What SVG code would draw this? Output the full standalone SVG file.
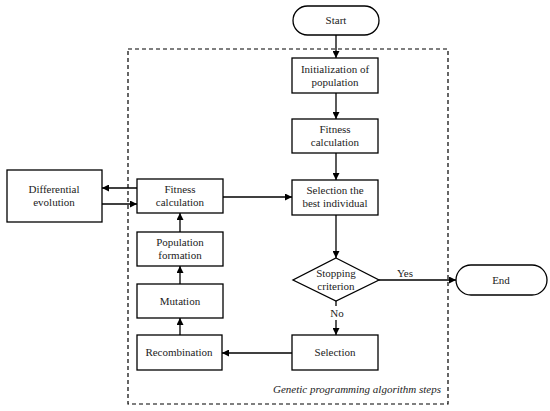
<svg xmlns="http://www.w3.org/2000/svg" width="550" height="411" viewBox="0 0 550 411" font-family="Liberation Serif, Times New Roman, serif">
<defs>
<marker id="ah" viewBox="0 0 10 10" refX="10" refY="5" markerWidth="7" markerHeight="7" markerUnits="userSpaceOnUse" orient="auto">
<path d="M0,0 L10,5 L0,10 z" fill="#000"/>
</marker>
</defs>
<style>
.box{fill:#fff;stroke:#000;stroke-width:1.3}
text{font-family:"Liberation Serif",serif}
.t{font-size:11px;fill:#222;text-anchor:middle}
.c{stroke:#000;stroke-width:1.3;fill:none}
.a{marker-end:url(#ah)}
</style>
<rect width="550" height="411" fill="#fff"/>
<rect x="128" y="49" width="320" height="355" fill="none" stroke="#000" stroke-width="1.2" stroke-dasharray="4,3"/>
<text x="441" y="393" class="t" font-family="Liberation Serif" font-style="italic" style="text-anchor:end">Genetic programming algorithm steps</text>
<g id="connectors">
<line class="c a" x1="336" y1="35" x2="336" y2="58"/>
<line class="c a" x1="336" y1="93" x2="336" y2="119"/>
<line class="c a" x1="336" y1="153" x2="336" y2="180"/>
<line class="c a" x1="336" y1="215" x2="336" y2="258"/>
<line class="c a" x1="379" y1="280" x2="456" y2="280"/>
<line class="c" x1="336" y1="301" x2="336" y2="306"/>
<line class="c a" x1="336" y1="320" x2="336" y2="335"/>
<line class="c a" x1="292" y1="353" x2="222" y2="353"/>
<line class="c a" x1="180" y1="335" x2="180" y2="318"/>
<line class="c a" x1="180" y1="284" x2="180" y2="266"/>
<line class="c a" x1="180" y1="232" x2="180" y2="213"/>
<line class="c a" x1="223" y1="197" x2="292" y2="197"/>
<line class="c a" x1="137" y1="188" x2="102" y2="188"/>
<line class="c a" x1="102" y1="204" x2="137" y2="204"/>
<text x="405" y="277" class="t">Yes</text>
<text x="337" y="317" class="t">No</text>
</g>
<g id="start"><rect class="box" x="293" y="6" width="86" height="29" rx="14.5"/><text x="336" y="24" class="t">Start</text></g>
<g id="init"><rect class="box" x="292" y="58" width="86" height="35"/><text x="335" y="73" class="t">Initialization of</text><text x="335" y="86" class="t">population</text></g>
<g id="fitness1"><rect class="box" x="292" y="119" width="86" height="34"/><text x="335" y="133" class="t">Fitness</text><text x="335" y="146" class="t">calculation</text></g>
<g id="selbest"><rect class="box" x="292" y="180" width="86" height="35"/><text x="335" y="194" class="t">Selection the</text><text x="335" y="207" class="t">best individual</text></g>
<g id="stop"><polygon class="box" points="336,258 379,280 336,301 293,280"/><text x="336" y="277" class="t">Stopping</text><text x="336" y="290" class="t">criterion</text></g>
<g id="end"><rect class="box" x="456" y="265" width="91" height="30" rx="15"/><text x="501" y="284" class="t">End</text></g>
<g id="selection"><rect class="box" x="292" y="335" width="86" height="35"/><text x="335" y="356" class="t">Selection</text></g>
<g id="recomb"><rect class="box" x="137" y="335" width="85" height="35"/><text x="179" y="356" class="t">Recombination</text></g>
<g id="mutation"><rect class="box" x="137" y="284" width="86" height="34"/><text x="180" y="305" class="t">Mutation</text></g>
<g id="popform"><rect class="box" x="137" y="232" width="86" height="34"/><text x="180" y="246" class="t">Population</text><text x="180" y="259" class="t">formation</text></g>
<g id="fitness2"><rect class="box" x="137" y="179" width="86" height="34"/><text x="180" y="193" class="t">Fitness</text><text x="180" y="206" class="t">calculation</text></g>
<g id="de"><rect class="box" x="7" y="170" width="95" height="52"/><text x="54" y="193" class="t">Differential</text><text x="54" y="206" class="t">evolution</text></g>
</svg>
